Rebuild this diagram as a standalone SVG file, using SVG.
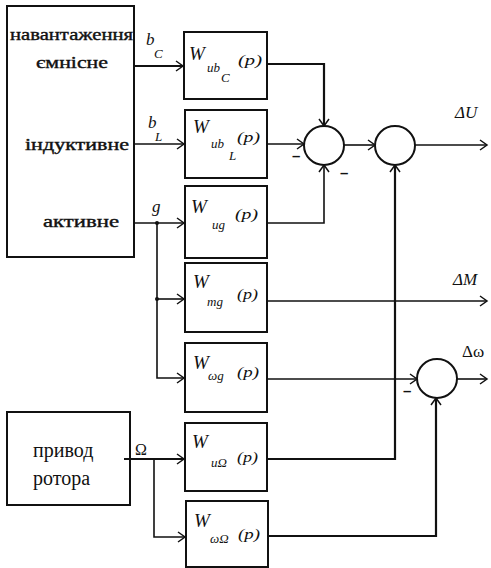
<svg xmlns="http://www.w3.org/2000/svg" width="491" height="568" viewBox="0 0 491 568">
<style>
.box{fill:#fff;stroke:#111;stroke-width:2}
.sum{fill:#fff;stroke:#111;stroke-width:2}
.ln{fill:none;stroke:#111;stroke-width:1.6}
.thick{stroke-width:2.2}
.lbl{font-family:"Liberation Serif","DejaVu Serif",serif;fill:#111}
.bd{stroke:#111;stroke-width:0.4}
.it{font-family:"Liberation Serif","DejaVu Serif",serif;font-style:italic;fill:#111}
.w{font-size:19px}
.s{font-size:13px}
.p{font-size:15px}
.m{font-family:"Liberation Sans",sans-serif;font-weight:bold;font-size:15px;fill:#111}
</style>
<defs>
<marker id="ar" markerUnits="userSpaceOnUse" markerWidth="10" markerHeight="12" refX="8" refY="6" orient="auto">
<path d="M1,1 L8,6 L1,11" fill="none" stroke="#111" stroke-width="1.5"/>
</marker>
</defs>
<rect width="491" height="568" fill="#fff"/>
<g id="load">
<rect class="box" x="7" y="6" width="127" height="251"/>
<text class="lbl bd" x="10" y="40" font-size="17" textLength="123" lengthAdjust="spacingAndGlyphs">навантаження</text>
<text class="lbl bd" x="36" y="68" font-size="17" textLength="72" lengthAdjust="spacingAndGlyphs">ємнісне</text>
<text class="lbl bd" x="25" y="150" font-size="17" textLength="104" lengthAdjust="spacingAndGlyphs">індуктивне</text>
<text class="lbl bd" x="43" y="227" font-size="17" textLength="76" lengthAdjust="spacingAndGlyphs">активне</text>
</g>
<g id="rotor">
<rect class="box" x="7" y="412" width="123" height="93"/>
<text class="lbl" x="33" y="457" font-size="20">привод</text>
<text class="lbl" x="33" y="485" font-size="20">ротора</text>
</g>
<g id="WubC">
<rect class="box" x="184" y="32" width="83" height="67"/>
<text class="it w" x="189" y="60">W</text>
<text class="it s" x="207" y="72">ub</text>
<text class="it s" x="221" y="82">C</text>
<text class="it p" x="238" y="65" textLength="24" lengthAdjust="spacingAndGlyphs">(p)</text>
</g>
<g id="WubL">
<rect class="box" x="185" y="110" width="82" height="68"/>
<text class="it w" x="193" y="133">W</text>
<text class="it s" x="211" y="148">ub</text>
<text class="it s" x="229" y="160">L</text>
<text class="it p" x="237" y="142" textLength="23" lengthAdjust="spacingAndGlyphs">(p)</text>
</g>
<g id="Wug">
<rect class="box" x="185" y="186" width="82" height="72"/>
<text class="it w" x="191" y="213">W</text>
<text class="it s" x="212" y="229" font-size="15">ug</text>
<text class="it p" x="235" y="219" textLength="23" lengthAdjust="spacingAndGlyphs">(p)</text>
</g>
<g id="Wmg">
<rect class="box" x="185" y="263" width="82" height="69"/>
<text class="it w" x="193" y="288">W</text>
<text class="it s" x="207" y="306" font-size="15">mg</text>
<text class="it p" x="237" y="299" textLength="21" lengthAdjust="spacingAndGlyphs">(p)</text>
</g>
<g id="Wwg">
<rect class="box" x="185" y="343" width="82" height="69"/>
<text class="it w" x="193" y="369">W</text>
<text class="it s" x="208" y="380" font-size="15">ωg</text>
<text class="it p" x="237" y="377" textLength="22" lengthAdjust="spacingAndGlyphs">(p)</text>
</g>
<g id="WuO">
<rect class="box" x="185" y="423" width="82" height="68"/>
<text class="it w" x="192" y="448">W</text>
<text class="it s" x="211" y="467">uΩ</text>
<text class="it p" x="237" y="462" textLength="21" lengthAdjust="spacingAndGlyphs">(p)</text>
</g>
<g id="WwO">
<rect class="box" x="186" y="501" width="82" height="66"/>
<text class="it w" x="194" y="527">W</text>
<text class="it s" x="210" y="543">ωΩ</text>
<text class="it p" x="238" y="539" textLength="22" lengthAdjust="spacingAndGlyphs">(p)</text>
</g>
<g id="sum1"><ellipse class="sum" cx="324" cy="145.5" rx="20" ry="19.5"/></g>
<g id="sum2"><ellipse class="sum" cx="395" cy="145.5" rx="20" ry="19.5"/></g>
<g id="sum3"><ellipse class="sum" cx="437" cy="378.5" rx="20" ry="19.5"/></g>
<g id="connectors">
<path class="ln thick" d="M134,66 H183" marker-end="url(#ar)"/>
<path class="ln" d="M134,144 H184" marker-end="url(#ar)"/>
<path class="ln" d="M134,223 H184" marker-end="url(#ar)"/>
<path class="ln" d="M157,223 V378 H184" marker-end="url(#ar)"/>
<path class="ln" d="M157,299 H184" marker-end="url(#ar)"/>
<circle cx="157" cy="223" r="2" fill="#111"/>
<circle cx="157" cy="299" r="2" fill="#111"/>
<path class="ln thick" d="M124,459 H184" marker-end="url(#ar)"/>
<path class="ln" d="M154,459 V537 H185" marker-end="url(#ar)"/>
<path class="ln thick" d="M267,64 H324 V126" marker-end="url(#ar)"/>
<path class="ln" d="M267,144 H304" marker-end="url(#ar)"/>
<path class="ln" d="M267,223 H324 V165" marker-end="url(#ar)"/>
<path class="ln" d="M344,145 H375" marker-end="url(#ar)"/>
<path class="ln" d="M415,145 H487" marker-end="url(#ar)"/>
<path class="ln" d="M267,301 H487" marker-end="url(#ar)"/>
<path class="ln" d="M267,379 H417" marker-end="url(#ar)"/>
<path class="ln" d="M457,379 H487" marker-end="url(#ar)"/>
<path class="ln thick" d="M267,459 H395 V165" marker-end="url(#ar)"/>
<path class="ln thick" d="M268,536 H436 V398" marker-end="url(#ar)"/>
</g>
<g id="labels">
<text class="it" x="146" y="45" font-size="17">b</text>
<text class="it" x="154" y="58" font-size="13">C</text>
<text class="it" x="148" y="128" font-size="17">b</text>
<text class="it" x="155" y="141" font-size="13">L</text>
<text class="it" x="152" y="212" font-size="17">g</text>
<text class="lbl" x="135" y="455" font-size="16">Ω</text>
<text class="it" x="455" y="118" font-size="17">ΔU</text>
<text class="it" x="453" y="285" font-size="17">ΔM</text>
<text class="lbl" x="462" y="357" font-size="17">Δω</text>
<text class="m" x="292" y="161">–</text>
<text class="m" x="340" y="178">–</text>
<text class="m" x="403" y="396">–</text>
</g>
</svg>
